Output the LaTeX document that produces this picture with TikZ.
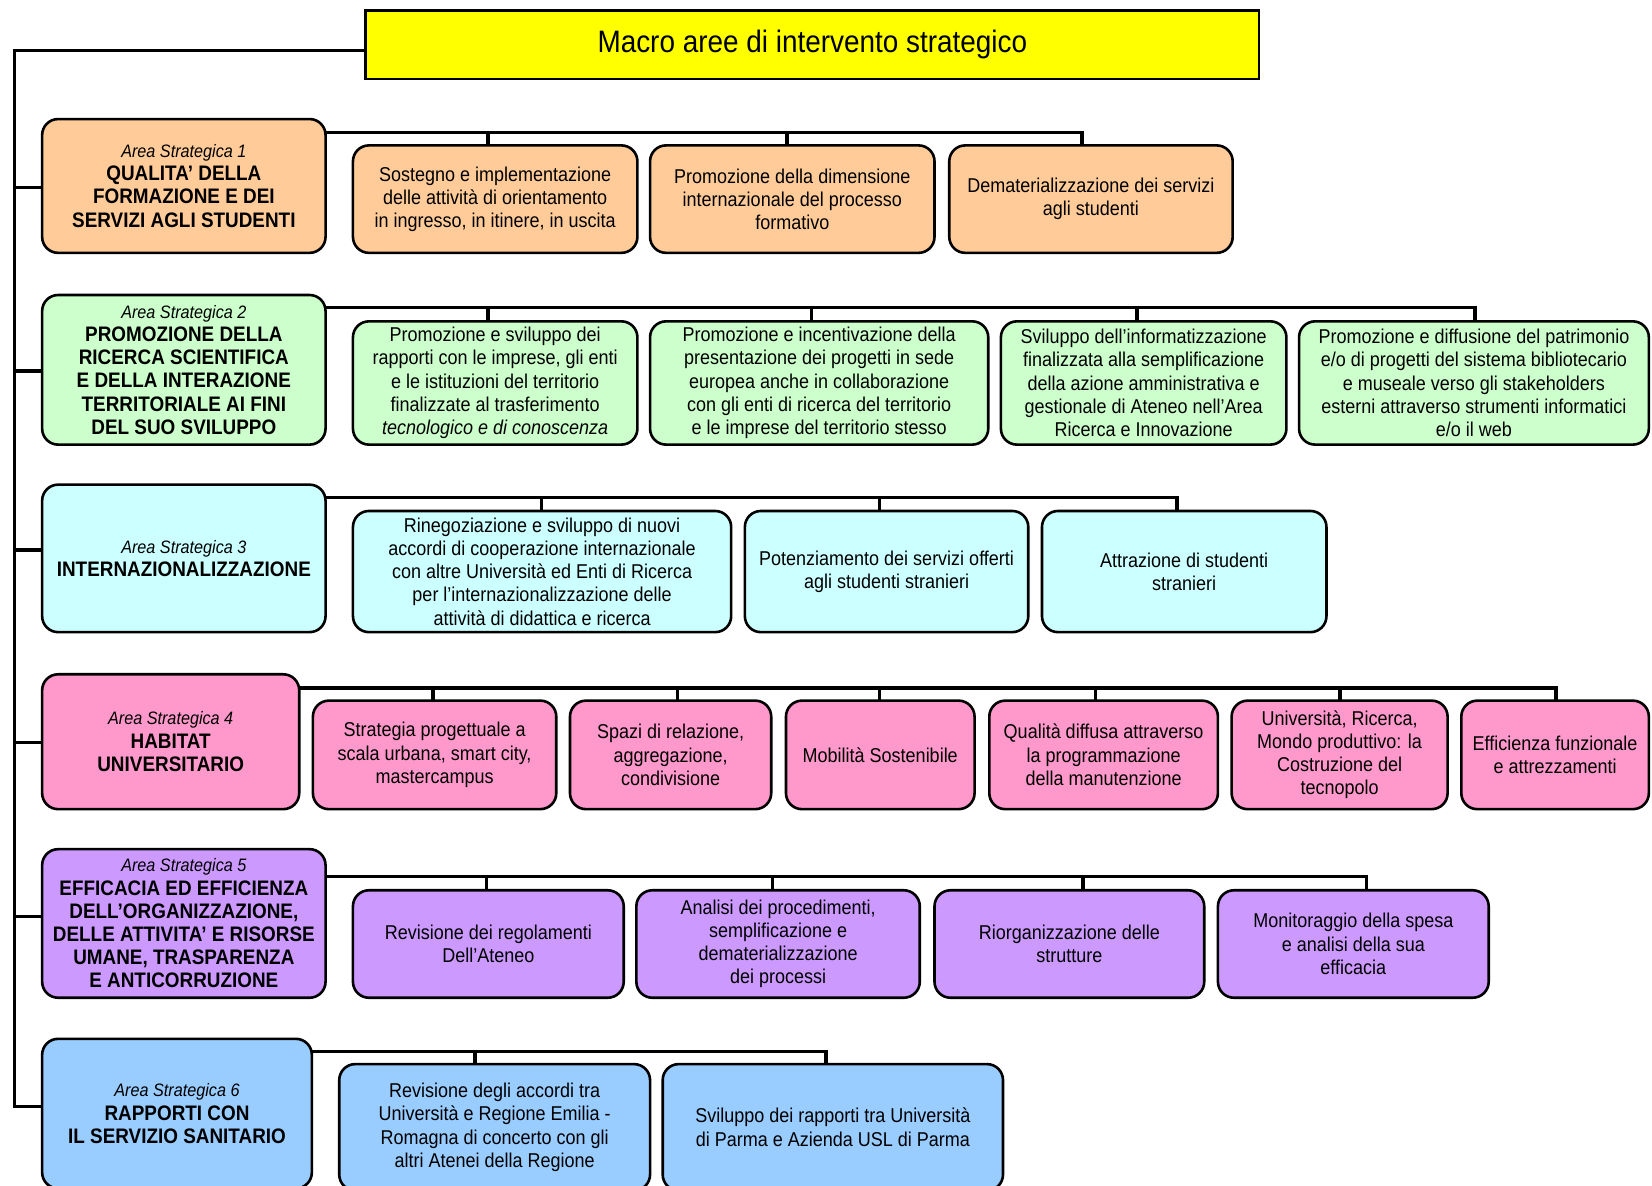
\documentclass[tikz,border=0pt]{standalone}
\usepackage{fontspec}
\setmainfont[FakeStretch=0.9]{Liberation Sans}
\usetikzlibrary{backgrounds}
\definecolor{cOr}{HTML}{FFCC99}
\definecolor{cGr}{HTML}{CCFFCC}
\definecolor{cCy}{HTML}{CCFFFF}
\definecolor{cPk}{HTML}{FF99CC}
\definecolor{cVi}{HTML}{CC99FF}
\definecolor{cBl}{HTML}{99CCFF}
\definecolor{cYe}{HTML}{FFFF00}
\tikzset{
  conn/.style={line width=1.7pt},
  box/.style={draw, line width=1.3pt, rounded corners=8pt, align=center, inner sep=1pt, outer sep=0pt, font=\fontsize{10}{11.6}\selectfont},
  areabox/.style={box, font=\fontsize{10.5}{11.6}\selectfont\bfseries},
  titlebox/.style={draw, line width=1.1pt, fill=cYe, align=center, inner sep=1pt, outer sep=0pt, font=\fontsize{15.5}{18}\selectfont}
}
\newcommand\mkbox[7]{\node[#2, minimum width={(#5-#3)*0.5268pt}, minimum height={(#6-#4)*0.5268pt}] (#1) at ({(#3+#5)/2},{(#4+#6)/2}) {#7};}
\newcommand\arealab[1]{{\mdseries\itshape\fontsize{9}{11.6}\selectfont Area Strategica #1}}
\begin{document}
\begin{tikzpicture}[x=0.5268pt, y=-0.5268pt]
\useasboundingbox (0,0) rectangle (1568,1125);
% title
\mkbox{title}{titlebox}{347}{10}{1195}{75}{\raisebox{-1pt}{Macro aree di intervento strategico}}
% row 1
\mkbox{a1}{areabox, fill=cOr}{40}{113}{309}{240}{\arealab{1}\\QUALITA’ DELLA\\FORMAZIONE E DEI\\SERVIZI AGLI STUDENTI}
\mkbox{c11}{box, fill=cOr}{335}{138}{605}{240}{Sostegno e implementazione\\delle attività di orientamento\\in ingresso, in itinere, in uscita}
\mkbox{c12}{box, fill=cOr}{617}{138}{887}{240}{Promozione della dimensione\\internazionale del processo\\formativo}
\mkbox{c13}{box, fill=cOr}{901}{138}{1170}{240}{Dematerializzazione dei servizi\\agli studenti}
% row 2
\mkbox{a2}{areabox, fill=cGr}{40}{280}{309}{422}{\arealab{2}\\PROMOZIONE DELLA\\RICERCA SCIENTIFICA\\E DELLA INTERAZIONE\\TERRITORIALE AI FINI\\DEL SUO SVILUPPO}
\mkbox{c21}{box, fill=cGr}{335}{305}{605}{422}{Promozione e sviluppo dei\\rapporti con le imprese, gli enti\\e le istituzioni del territorio\\finalizzate al trasferimento\\\textit{tecnologico e di conoscenza}}
\mkbox{c22}{box, fill=cGr}{617}{305}{938}{422}{Promozione e incentivazione della\\presentazione dei progetti in sede\\europea anche in collaborazione\\con gli enti di ricerca del territorio\\e le imprese del territorio stesso}
\mkbox{c23}{box, fill=cGr}{950}{305}{1221}{422}{Sviluppo dell’informatizzazione\\finalizzata alla semplificazione\\della azione amministrativa e\\gestionale di Ateneo nell’Area\\Ricerca e Innovazione}
\mkbox{c24}{box, fill=cGr}{1233}{305}{1565}{422}{Promozione e diffusione del patrimonio\\e/o di progetti del sistema bibliotecario\\e museale verso gli stakeholders\\esterni attraverso strumenti informatici\\e/o il web}
% row 3
\mkbox{a3}{areabox, fill=cCy}{40}{460}{309}{600}{\arealab{3}\\INTERNAZIONALIZZAZIONE}
\mkbox{c31}{box, fill=cCy}{335}{485}{694}{600}{Rinegoziazione e sviluppo di nuovi\\accordi di cooperazione internazionale\\con altre Università ed Enti di Ricerca\\per l’internazionalizzazione delle\\attività di didattica e ricerca}
\mkbox{c32}{box, fill=cCy}{707}{485}{976}{600}{Potenziamento dei servizi offerti\\agli studenti stranieri}
\mkbox{c33}{box, fill=cCy}{989}{485}{1259}{600}{Attrazione di studenti\\stranieri}
% row 4
\mkbox{a4}{areabox, fill=cPk}{40}{640}{284}{768}{\arealab{4}\\HABITAT\\UNIVERSITARIO}
\mkbox{c41}{box, fill=cPk}{297}{665}{528}{768}{Strategia progettuale a\\scala urbana, smart city,\\mastercampus}
\mkbox{c42}{box, fill=cPk}{541}{665}{732}{768}{Spazi di relazione,\\aggregazione,\\condivisione}
\mkbox{c43}{box, fill=cPk}{746}{665}{925}{768}{Mobilità Sostenibile}
\mkbox{c44}{box, fill=cPk}{939}{665}{1156}{768}{Qualità diffusa attraverso\\la programmazione\\della manutenzione}
\mkbox{c45}{box, fill=cPk}{1169}{665}{1374}{768}{Università, Ricerca,\\Mondo produttivo: la\\Costruzione del\\tecnopolo}
\mkbox{c46}{box, fill=cPk}{1387}{665}{1565}{768}{Efficienza funzionale\\e attrezzamenti}
% row 5
\mkbox{a5}{areabox, fill=cVi}{40}{806}{309}{947}{\arealab{5}\\EFFICACIA ED EFFICIENZA\\DELL’ORGANIZZAZIONE,\\DELLE ATTIVITA’ E RISORSE\\UMANE, TRASPARENZA\\E ANTICORRUZIONE}
\mkbox{c51}{box, fill=cVi}{335}{845}{592}{947}{Revisione dei regolamenti\\Dell’Ateneo}
\mkbox{c52}{box, fill=cVi}{604}{845}{873}{947}{Analisi dei procedimenti,\\semplificazione e\\dematerializzazione\\dei processi}
\mkbox{c53}{box, fill=cVi}{887}{845}{1143}{947}{Riorganizzazione delle\\strutture}
\mkbox{c54}{box, fill=cVi}{1156}{845}{1413}{947}{Monitoraggio della spesa\\e analisi della sua\\efficacia}
% row 6
\mkbox{a6}{areabox, fill=cBl}{40}{986}{296}{1128}{\arealab{6}\\RAPPORTI CON\\IL SERVIZIO SANITARIO}
\mkbox{c61}{box, fill=cBl}{322}{1010}{617}{1130}{Revisione degli accordi tra\\Università e Regione Emilia -\\Romagna di concerto con gli\\altri Atenei della Regione}
\mkbox{c62}{box, fill=cBl}{629}{1010}{952}{1130}{Sviluppo dei rapporti tra Università\\di Parma e Azienda USL di Parma}
% connectors
\begin{scope}[on background layer]
\fill[white] (0,0) rectangle (1568,1125);
\draw[conn] (title.center |- 0,48) -- (14,48) -- (14,1050) -- (a6.center |- 0,1050);
\draw[conn] (14,178) -- (a1.center |- 0,178);
\draw[conn] (14,352) -- (a2.center |- 0,352);
\draw[conn] (14,522) -- (a3.center |- 0,522);
\draw[conn] (14,705) -- (a4.center |- 0,705);
\draw[conn] (14,870) -- (a5.center |- 0,870);
% row 1 bus
\draw[conn] (a1.center |- 0,126) -- (1027,126) -- (1027,0 |- c13.center);
\draw[conn] (463,126) -- (463,0 |- c11.center);
\draw[conn] (747,126) -- (747,0 |- c12.center);
% row 2 bus
\draw[conn] (a2.center |- 0,292) -- (1400,292) -- (1400,0 |- c24.center);
\draw[conn] (463,292) -- (463,0 |- c21.center);
\draw[conn] (770,292) -- (770,0 |- c22.center);
\draw[conn] (1079,292) -- (1079,0 |- c23.center);
% row 3 bus
\draw[conn] (a3.center |- 0,472) -- (1117,472) -- (1117,0 |- c33.center);
\draw[conn] (514,472) -- (514,0 |- c31.center);
\draw[conn] (835,472) -- (835,0 |- c32.center);
% row 4 bus
\draw[conn] (a4.center |- 0,653) -- (1477,653) -- (1477,0 |- c46.center);
\draw[conn] (411,653) -- (411,0 |- c41.center);
\draw[conn] (643,653) -- (643,0 |- c42.center);
\draw[conn] (835,653) -- (835,0 |- c43.center);
\draw[conn] (1040,653) -- (1040,0 |- c44.center);
\draw[conn] (1272,653) -- (1272,0 |- c45.center);
% row 5 bus
\draw[conn] (a5.center |- 0,832) -- (1297,832) -- (1297,0 |- c54.center);
\draw[conn] (462,832) -- (462,0 |- c51.center);
\draw[conn] (733,832) -- (733,0 |- c52.center);
\draw[conn] (1028,832) -- (1028,0 |- c53.center);
% row 6 bus
\draw[conn] (a6.center |- 0,998) -- (784,998) -- (784,0 |- c62.center);
\draw[conn] (451,998) -- (451,0 |- c61.center);
\end{scope}
\end{tikzpicture}
\end{document}
